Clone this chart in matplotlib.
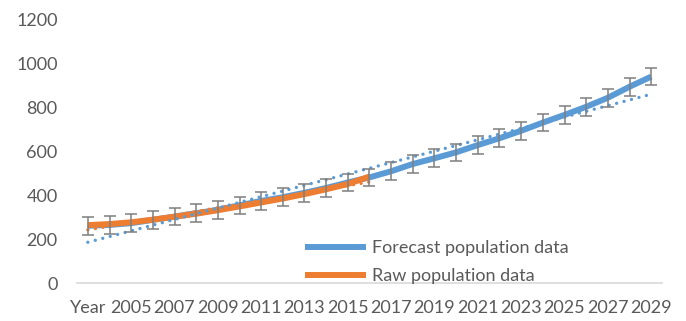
import numpy as np
import matplotlib.pyplot as plt

plt.rcParams['font.family'] = ['Lato', 'DejaVu Sans']

# categories on the x axis ("Year" header ends up as first category)
years = ["Year"] + [str(y) for y in range(2004, 2030)]

# forecast population (whole range) and raw population (up to 2016)
forecast = [260, 264, 272, 287, 302, 317, 333, 353, 373, 390, 410, 432, 457, 480,
            508, 541, 567, 594, 627, 658, 692, 729, 764, 801, 842, 892, 938]
raw = [263, 268, 276, 288, 301, 315, 331, 348, 366, 384, 404, 426, 450, 484]
err = 40  # fixed error bar

blue = "#5B9BD5"
orange = "#ED7D31"
grey = "#595959"

x_all = np.arange(len(years))
x_raw = np.arange(len(raw))

fig = plt.figure(figsize=(6.86, 3.21), dpi=100)
ax = fig.add_axes([77 / 686, 1 - 283 / 321, (662 - 77) / 686, (283 - 19) / 321])

ax.plot(x_all, forecast, color=blue, lw=4.3, solid_capstyle="butt",
        label="Forecast population data", zorder=2)
ax.plot(x_raw, raw, color=orange, lw=4.3, solid_capstyle="butt",
        label="Raw population data", zorder=3)

# linear trendlines, like Excel's
p1 = np.polyfit(x_all, forecast, 1)
ax.plot(x_all, np.polyval(p1, x_all), color=blue, lw=2.4,
        linestyle=(0, (0.01, 2.3)), dash_capstyle="round", zorder=4)
p2 = np.polyfit(x_raw, raw, 1)
ax.plot(x_raw, np.polyval(p2, x_raw), color=orange, lw=2.4,
        linestyle=(0, (0.01, 2.3)), dash_capstyle="round", zorder=2.5)

ax.errorbar(x_all, forecast, yerr=err, fmt="none", ecolor="#7F7F7F",
            elinewidth=1.1, capsize=4.2, capthick=1.1, zorder=5)

ax.set_xlim(-0.5, len(years) - 0.5)
ax.set_ylim(0, 1200)
ax.set_yticks(range(0, 1201, 200))
ax.set_xticks(x_all[::2])
ax.set_xticklabels(years[::2])
ax.tick_params(axis="both", length=0, labelsize=13, labelcolor=grey)
ax.tick_params(axis="y", pad=14)
ax.tick_params(axis="x", pad=12)

for side in ["top", "right", "left"]:
    ax.spines[side].set_visible(False)
ax.spines["bottom"].set_color("#D9D9D9")
ax.spines["bottom"].set_linewidth(1.2)

leg = ax.legend(loc="upper left", bbox_to_anchor=(305 / 686, 1 - 240 / 321),
                bbox_transform=fig.transFigure, frameon=False, fontsize=13,
                borderpad=0, borderaxespad=0, handlelength=3.4,
                handletextpad=0.3, labelspacing=0.68)
for t in leg.get_texts():
    t.set_color(grey)

fig.savefig("out.png", dpi=100)
